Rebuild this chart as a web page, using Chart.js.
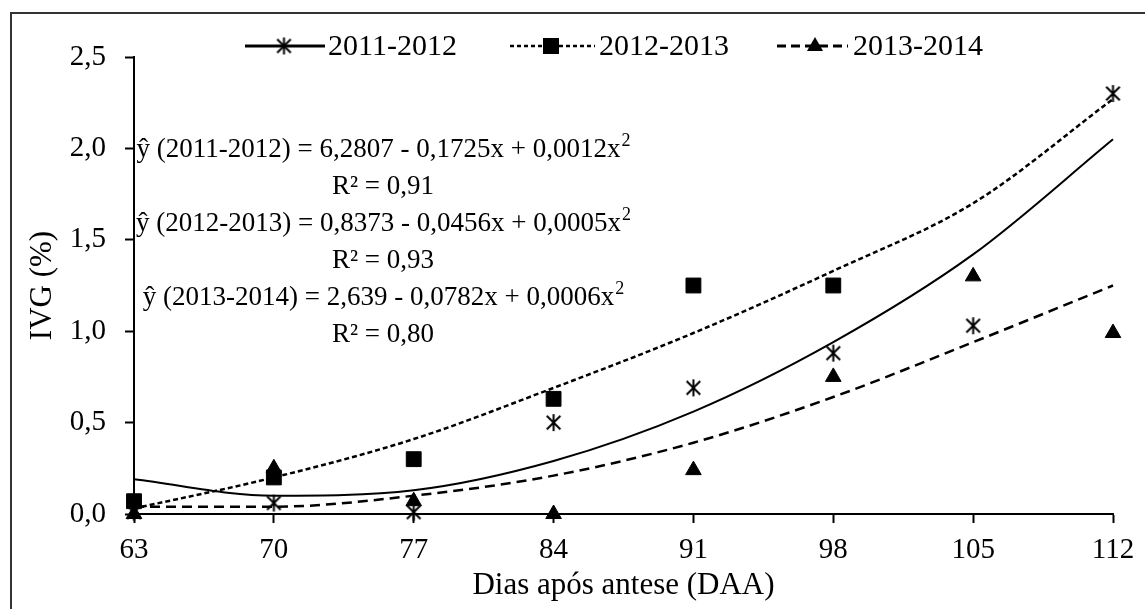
<!DOCTYPE html>
<html lang="pt">
<head>
<meta charset="UTF-8">
<title>IVG por DAA</title>
<script src="https://cdn.jsdelivr.net/npm/chart.js"></script>
<style>
    body { margin: 0; background: #fff; }
    #wrap { width: 1145px; height: 609px; }
</style>
</head>
<body>
<div id="wrap"><canvas id="chart" width="1145" height="609"></canvas></div>
<script>
// dias após antese
const days = [63, 70, 77, 84, 91, 98, 105, 112];
const seasons = ['2011-2012', '2012-2013', '2013-2014'];

const obs2011 = [0.01, 0.06, 0.01, 0.50, 0.69, 0.88, 1.03, 2.30];
const obs2012 = [0.07, 0.20, 0.30, 0.63, 1.25, 1.25, null, null];
const obs2013 = [0.00, 0.25, 0.07, 0.00, 0.24, 0.75, 1.30, 0.99];

// curvas ajustadas
const fit2011 = [0.19, 0.10, 0.13, 0.29, 0.56, 0.94, 1.42, 2.05];
const fit2012 = [0.03, 0.20, 0.41, 0.69, 0.99, 1.33, 1.70, 2.27];
const fit2013 = [0.04, 0.04, 0.10, 0.21, 0.39, 0.64, 0.94, 1.25];

const yTicks = [0, 0.5, 1.0, 1.5, 2.0, 2.5];

const equations = [
    ['ŷ (2011-2012) = 6,2807 - 0,1725x + 0,0012x', '2'],
    ['R² = 0,91', ''],
    ['ŷ (2012-2013) = 0,8373 - 0,0456x + 0,0005x', '2'],
    ['R² = 0,93', ''],
    ['ŷ (2013-2014) = 2,639 - 0,0782x + 0,0006x', '2'],
    ['R² = 0,80', '']
];

const serif = '"Liberation Serif", "Times New Roman", serif';

function points(arr) {
    return days.map((x, i) => ({ x: x, y: arr[i] })).filter(p => p.y !== null);
}

function asterisk(size, lw) {
    const c = document.createElement('canvas');
    c.width = size; c.height = size;
    const g = c.getContext('2d');
    const m = size / 2, r = size / 2 - 1, d = r * 0.8;
    g.strokeStyle = '#000';
    g.lineWidth = lw;
    g.beginPath();
    g.moveTo(m, m - r); g.lineTo(m, m + r);
    g.moveTo(m - d, m - d); g.lineTo(m + d, m + d);
    g.moveTo(m + d, m - d); g.lineTo(m - d, m + d);
    g.stroke();
    return c;
}
const starImg = asterisk(19, 2);

// moldura, legenda e equações
const decorations = {
    id: 'decorations',
    beforeDraw(chart) {
        const ctx = chart.ctx;
        ctx.save();
        ctx.strokeStyle = '#333';
        ctx.lineWidth = 2;
        ctx.beginPath();
        ctx.moveTo(11, 609);
        ctx.lineTo(11, 13);
        ctx.lineTo(1145, 13);
        ctx.stroke();
        ctx.restore();
    },
    afterDraw(chart) {
        const ctx = chart.ctx;
        ctx.save();
        ctx.fillStyle = '#000';
        ctx.strokeStyle = '#000';

        // legenda
        const ly = 46;
        const items = [
            { x1: 245, x2: 325, mx: 284, dash: [], lw: 3, marker: 'star', tx: 328 },
            { x1: 510, x2: 595, mx: 551, dash: [4, 3], lw: 2.5, marker: 'rect', tx: 599 },
            { x1: 777, x2: 848, mx: 815, dash: [9, 5], lw: 3, marker: 'tri', tx: 853 }
        ];
        items.forEach((it, i) => {
            ctx.setLineDash(it.dash);
            ctx.lineWidth = it.lw;
            ctx.beginPath();
            ctx.moveTo(it.x1, ly);
            ctx.lineTo(it.x2, ly);
            ctx.stroke();
            ctx.setLineDash([]);
            if (it.marker === 'star') {
                ctx.drawImage(starImg, it.mx - starImg.width / 2, ly - starImg.height / 2);
            } else if (it.marker === 'rect') {
                ctx.fillRect(it.mx - 8, ly - 8, 16, 16);
            } else {
                ctx.beginPath();
                ctx.moveTo(it.mx, ly - 9);
                ctx.lineTo(it.mx + 8, ly + 5);
                ctx.lineTo(it.mx - 8, ly + 5);
                ctx.closePath();
                ctx.fill();
            }
            ctx.font = '30px ' + serif;
            ctx.textAlign = 'left';
            ctx.textBaseline = 'middle';
            ctx.fillText(seasons[i], it.tx, ly + 1);
        });

        // equações
        const cx = 383;
        equations.forEach((eq, i) => {
            const y = 150 + i * 37;
            ctx.font = '27px ' + serif;
            const w1 = ctx.measureText(eq[0]).width;
            ctx.font = '18px ' + serif;
            const w2 = eq[1] ? ctx.measureText(eq[1]).width : 0;
            const x0 = cx - (w1 + w2) / 2;
            ctx.textAlign = 'left';
            ctx.textBaseline = 'middle';
            ctx.font = '27px ' + serif;
            ctx.fillText(eq[0], x0, y);
            if (eq[1]) {
                ctx.font = '18px ' + serif;
                ctx.fillText(eq[1], x0 + w1 + 1, y - 9);
            }
        });
        ctx.restore();
    }
};

const lineBase = {
    showLine: true,
    pointRadius: 0,
    borderColor: '#000',
    cubicInterpolationMode: 'monotone',
    clip: false,
    order: 2
};
const markBase = {
    showLine: false,
    borderColor: '#000',
    backgroundColor: '#000',
    pointBorderWidth: 1,
    clip: false,
    order: 1
};

new Chart(document.getElementById('chart'), {
    type: 'scatter',
    data: {
        datasets: [
            Object.assign({}, lineBase, { label: 'fit ' + seasons[0], data: points(fit2011), borderWidth: 2 }),
            Object.assign({}, lineBase, { label: 'fit ' + seasons[1], data: points(fit2012), borderWidth: 2.5, borderDash: [5, 3] }),
            Object.assign({}, lineBase, { label: 'fit ' + seasons[2], data: points(fit2013), borderWidth: 2.5, borderDash: [10, 6] }),
            Object.assign({}, markBase, { label: seasons[0], data: points(obs2011), pointStyle: starImg, pointRadius: 9 }),
            Object.assign({}, markBase, { label: seasons[1], data: points(obs2012), pointStyle: 'rect', pointRadius: 10.5 }),
            Object.assign({}, markBase, { label: seasons[2], data: points(obs2013), pointStyle: 'triangle', pointRadius: 9 })
        ]
    },
    options: {
        responsive: false,
        animation: false,
        layout: { padding: { top: 57, right: 32, left: 0, bottom: 0 } },
        plugins: {
            legend: { display: false },
            tooltip: { enabled: false }
        },
        scales: {
            x: {
                type: 'linear',
                min: 63,
                max: 112,
                afterBuildTicks: s => { s.ticks = days.map(v => ({ value: v })); },
                afterFit: s => { s.height = 95; },
                border: { display: true, color: '#000', width: 2 },
                grid: { drawOnChartArea: false, color: '#000', tickLength: 9, tickWidth: 2 },
                ticks: { color: '#000', padding: 10, font: { family: serif, size: 29 }, maxRotation: 0 },
                title: {
                    display: true,
                    text: 'Dias após antese (DAA)',
                    color: '#000',
                    font: { family: serif, size: 31 },
                    padding: { top: 0, bottom: 5 }
                }
            },
            y: {
                min: 0,
                max: 2.5,
                afterBuildTicks: s => { s.ticks = yTicks.map(v => ({ value: v })); },
                afterFit: s => { s.width = 134; },
                border: { display: true, color: '#000', width: 2 },
                grid: { drawOnChartArea: false, color: '#000', tickLength: 9, tickWidth: 2 },
                ticks: {
                    color: '#000',
                    padding: 19,
                    font: { family: serif, size: 29 },
                    callback: v => v.toFixed(1).replace('.', ',')
                },
                title: {
                    display: true,
                    text: 'IVG (%)',
                    color: '#000',
                    font: { family: serif, size: 31 },
                    padding: { top: 24, bottom: 0 }
                }
            }
        }
    },
    plugins: [decorations]
});
</script>
</body>
</html>
